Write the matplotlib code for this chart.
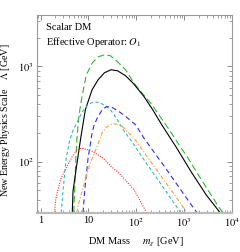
import matplotlib
matplotlib.use("Agg")
import matplotlib.pyplot as plt
from matplotlib.ticker import FixedLocator, FixedFormatter, LogLocator, NullFormatter

plt.rcParams['font.family'] = ['Liberation Serif', 'DejaVu Serif']
plt.rcParams['mathtext.fontset'] = 'stix'

# curves: DM mass [GeV] vs Lambda [GeV]
black_m = [4.59, 4.75, 5.57, 6.9, 8.61, 11.9, 15.9, 21.6, 29.5, 40.5, 59.6, 87.8, 144, 220, 340, 669, 1383, 2858, 5623]
black_L = [29.2, 48.8, 86, 178, 351, 569, 725, 859, 923, 901, 799, 658, 484, 351, 244, 144, 79, 45.1, 29.2]

green_m = [4.94, 5.13, 5.44, 5.71, 6.14, 6.6, 7.34, 9.03, 12.1, 16.1, 21.9, 28.8, 39.9, 59.6, 89.1, 129, 200, 413, 526, 774, 1178, 1849, 3105, 5436, 6500]
green_L = [29.2, 48.8, 105, 170, 263, 351, 484, 818, 1094, 1264, 1327, 1295, 1128, 923, 670, 530, 413, 244, 204, 151, 111, 76.7, 50.8, 32.7, 29.2]

cyan_m = [2.70, 2.93, 3.43, 4.07, 4.82, 5.99, 7.45, 9.95, 13.3, 17.8, 22.6, 28.8, 38.6, 51.5, 83.6, 144, 234, 380, 670, 853]
cyan_L = [29.2, 48.8, 109, 170, 217, 269, 335, 401, 426, 413, 387, 351, 286, 222, 158, 105, 74, 52.1, 34.5, 29.2]

blue_m = [7.71, 8.32, 9.81, 11.9, 12.9, 15.2, 19.3, 23.8, 28.8, 43.1, 59.6, 96.7, 144, 234, 380, 853, 1500, 1849]
blue_L = [29.2, 48.8, 109, 200, 235, 287, 351, 378, 380, 337, 299, 244, 177, 126, 90.1, 50.4, 33.7, 29.2]

orange_m = [5.71, 6.29, 7.71, 10.6, 14.7, 19.3, 23.8, 31.3, 40.5, 50.8, 64.7, 89.1, 144, 324, 670, 1140]
orange_L = [29.2, 37.1, 53, 93, 139, 201, 230, 250, 247, 235, 208, 177, 126, 71.3, 43, 29.2]

red_m = [1.95, 2.07, 2.30, 2.70, 3.43, 4.59, 5.71, 7.09, 11.0, 20.3, 28.8, 46.8, 89.1, 123, 164]
red_L = [29.2, 39.9, 50.8, 68, 86, 114, 132, 139, 132, 109, 90.8, 73, 50.8, 38, 29.2]

xticks = [1, 10, 100, 1000, 10000]
xticklabels = ['1', '10', '$10^2$', '$10^3$', '$10^4$']
yticks = [100, 1000]
yticklabels = ['$10^2$', '$10^3$']

fig = plt.figure(figsize=(2.4, 2.52), dpi=100)
ax = fig.add_axes([0.153, 0.155, 0.814, 0.787])

lw = 0.8
ax.plot(green_m, green_L, color='#2db82d', lw=lw, dashes=(6, 3))
ax.plot(black_m, black_L, color='black', lw=lw)
ax.plot(cyan_m, cyan_L, color='#2bbdbd', lw=lw, dashes=(3, 2.2))
ax.plot(blue_m, blue_L, color='#2b2bff', lw=lw, dashes=(4.5, 3))
ax.plot(orange_m, orange_L, color='#ff9a33', lw=lw, dashes=(3.5, 1.8, 1, 1.8))
ax.plot(red_m, red_L, color='#ff3030', lw=lw, dashes=(1, 1.2))

ax.set_xscale('log')
ax.set_yscale('log')
ax.set_xlim(0.83, 1e4)
ax.set_ylim(29, 3500)

ax.xaxis.set_major_locator(FixedLocator(xticks))
ax.xaxis.set_major_formatter(FixedFormatter(xticklabels))
ax.yaxis.set_major_locator(FixedLocator(yticks))
ax.yaxis.set_major_formatter(FixedFormatter(yticklabels))
ax.xaxis.set_minor_locator(LogLocator(base=10, subs=range(2, 10), numticks=20))
ax.yaxis.set_minor_locator(LogLocator(base=10, subs=range(2, 10), numticks=20))
ax.xaxis.set_minor_formatter(NullFormatter())
ax.yaxis.set_minor_formatter(NullFormatter())

ax.tick_params(which='both', direction='in', top=True, right=True, color='#777777', labelsize=7.5, pad=2)
ax.tick_params(which='major', length=3.5, width=0.6)
ax.tick_params(which='minor', length=2, width=0.5)
for s in ax.spines.values():
    s.set_color('#999999')
    s.set_linewidth(0.8)
ax.spines['bottom'].set_linewidth(1.6)
ax.spines['bottom'].set_color('#bbbbbb')

ax.text(0.046, 0.935, 'Scalar DM', transform=ax.transAxes, fontsize=7.5, va='center')
ax.text(0.046, 0.862, 'Effective Operator: $O_1$', transform=ax.transAxes, fontsize=7.5, va='center')

ax.set_xlabel('DM Mass     $m_\\chi$ [GeV]', fontsize=7.5)
ax.xaxis.set_label_coords(0.508, -0.118)
ax.set_ylabel('New Energy Physics Scale    $\\Lambda$ [GeV]', fontsize=7.2)
ax.yaxis.set_label_coords(-0.125, 0.47)

fig.savefig('out.png', dpi=100)
